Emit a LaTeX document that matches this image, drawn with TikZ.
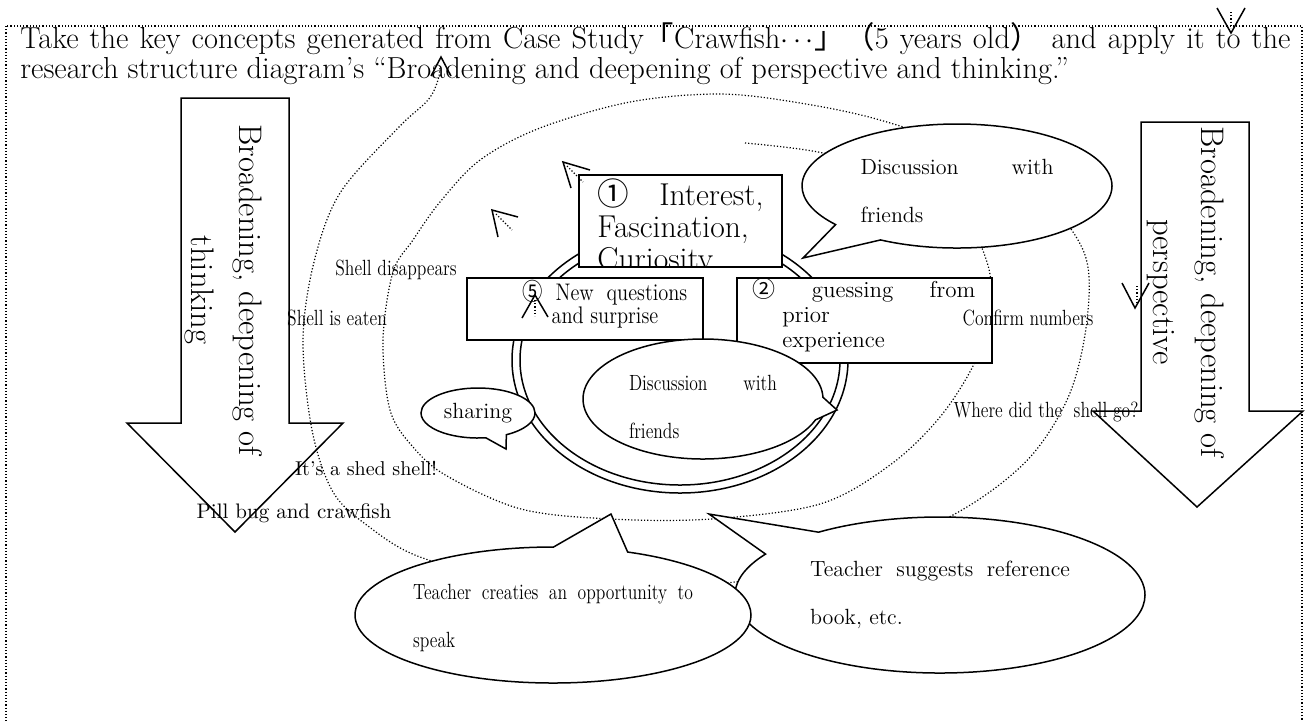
\documentclass[tikz,border=0pt]{standalone}
\usepackage{fontspec}
\usepackage{graphicx}
\newfontfamily\cjk{Noto Sans CJK JP}
\usetikzlibrary{shapes.geometric, shapes.callouts}

\newcommand{\narrow}[2][0.8]{\scalebox{#1}[1]{#2}}

\begin{document}
\begin{tikzpicture}[x=0.5pt, y=-0.5pt,
  pageframe/.style={densely dotted, line width=0.6pt},
  track/.style={densely dotted, line width=0.6pt},
  bigarrow/.style={draw, line width=0.75pt, line join=miter},
  arrowtext/.style={rotate=-90, align=center, inner sep=0pt, font=\fontsize{16.3}{24}\selectfont},
  stage/.style={draw, line width=0.75pt, fill=white, inner sep=0pt},
  ring/.style={draw, ellipse, line width=0.75pt, inner sep=0pt},
  talk/.style={draw, ellipse callout, line width=0.75pt, fill=white, inner sep=0pt,
               callout pointer arc=22, font=\fontsize{11}{24}\selectfont},
  note/.style={inner sep=0pt, font=\fontsize{11}{13}\selectfont},
  vhead/.style={line width=0.75pt, line join=miter},
]

\fill[white] (0,0) rectangle (1310,720);
\useasboundingbox (0,0) rectangle (1310,720);
\clip (0,0) rectangle (1310,720);

% Dotted frame
\draw[pageframe] (6,26) rectangle (1302,760);

% Heading
\node[anchor=base west, inner sep=0pt, font=\fontsize{15.2}{14}\selectfont] (head1) at (20,48)
  {\makebox[635pt][s]{Take the key concepts generated from Case Study{\cjk 「}Crawfish$\cdots${\cjk 」（}5 years old{\cjk ）} and apply it to the}};
\node[anchor=base west, inner sep=0pt, font=\fontsize{15.2}{14}\selectfont] (head2) at (20,78)
  {research structure diagram’s “Broadening and deepening of perspective and thinking.”};

% Spiral track
\draw[track] plot[smooth, tension=0.55] coordinates {
  (745,143) (823,153) (900,178) (960,212) (987,262) (991,310) (975,362) (940,417)
  (890,465) (820,504) (711,519) (611,519) (521,509) (447,476) (413,447) (390,410)
  (383,340) (393,272) (413,240) (440,202) (480,160) (540,128) (630,102) (720,94)
  (800,103) (880,120) (970,152) (1045,200) (1085,255) (1087,320) (1070,393) (1032,455)
  (975,502) (900,540) (800,572) (735,582) (640,588) (520,582) (420,557) (368,526)
  (333,492) (312,430) (303,340) (314,262) (340,193) (398,128) (428,100) (438,80) (440,66)};

% Block arrows
\draw[bigarrow] (181,98) -- (289,98) -- (289,423) -- (343,423) -- (235,532) -- (127,423) -- (181,423) -- cycle;
\node[arrowtext] (thinking) at (224,290) {Broadening, deepening of\\thinking};
\draw[bigarrow] (1141,122) -- (1249,122) -- (1249,411) -- (1303,411) -- (1197,507) -- (1093,411) -- (1141,411) -- cycle;
\node[arrowtext] (perspective) at (1186,292) {Broadening, deepening of\\perspective};

% Double ring
\node[ring, minimum width=168pt, minimum height=133pt] (ringout) at (680,360) {};
\node[ring, minimum width=160pt, minimum height=125pt] (ringin) at (680,360) {};

% Stage boxes
\node[stage, minimum width=101.5pt, minimum height=46pt] (interest) at (680.5,221) {};
\begin{scope}
  \clip (interest.south west) rectangle (interest.north east);
  \node[anchor=base west, inner sep=0pt, font=\fontsize{15.8}{16}\selectfont] (interesttext) at (597,205)
    {\parbox[t]{83pt}{\makebox[83pt]{{\cjk ①}\hfill Interest,}\\Fascination,\\Curiosity}};
\end{scope}

\node[stage, minimum width=118pt, minimum height=31pt] (newq) at (585,309) {};
\node[anchor=base west, inner sep=0pt, font=\fontsize{12}{11.5}\selectfont] (newqtext) at (522,300)
  {\parbox[t]{82.5pt}{\centering\narrow[0.85]{\makebox[97pt][s]{{\cjk ⑤} New questions}}\\\narrow[0.85]{and surprise}}};

\node[stage, minimum width=127.5pt, minimum height=42.5pt] (guess) at (864.5,320.5) {};
\node[anchor=base west, inner sep=0pt, font=\fontsize{11.5}{12.5}\selectfont] (guesstext) at (752,297)
  {\parbox[t]{111.5pt}{\makebox[111.5pt]{{\cjk ②}\hfill guessing\hfill from}\\\hspace*{15pt}prior\\\hspace*{15pt}experience}};

% Speech bubbles
\coordinate (ptrTR) at (803,258);
\coordinate (ptrIn) at (837,410);
\coordinate (ptrShare) at (506,449);
\coordinate (ptrB1) at (611,514);
\coordinate (ptrB2) at (709,514);

\node[talk, minimum width=155pt, minimum height=62pt, text height=15pt, text depth=27pt,
      callout absolute pointer=(ptrTR)] (talkTR) at (957,186)
  {\parbox[t]{96.5pt}{\makebox[96.5pt]{Discussion\hfill with}\\friends}};
\node[talk, minimum width=120pt, minimum height=60pt, text height=16pt, text depth=25pt,
      callout absolute pointer=(ptrIn)] (talkIn) at (703,399)
  {\parbox[t]{74pt}{\narrow{\makebox[92.5pt][s]{Discussion with}}\\\narrow{friends}}};
\node[talk, minimum width=57pt, minimum height=25pt, callout absolute pointer=(ptrShare)] (talkShare) at (478,413) {sharing};
\node[talk, minimum width=205pt, minimum height=78pt, callout absolute pointer=(ptrB2)] (talkB2) at (940,595)
  {\parbox[t]{130pt}{\makebox[130pt]{Teacher\hfill suggests\hfill reference}\\book, etc.}};
\node[talk, minimum width=198pt, minimum height=68pt, text height=11pt, text depth=27pt,
      callout absolute pointer=(ptrB1)] (talkB1) at (553,615)
  {\parbox[t]{140pt}{\narrow{\makebox[175pt][s]{Teacher creaties an opportunity to}}\\\narrow{speak}}};

% Loose labels
\node[note] (gone) at (396,270) {\narrow{Shell disappears}};
\node[note] (eaten) at (337,318) {\narrow{Shell is eaten}};
\node[note, font=\fontsize{10}{12}\selectfont] (shed) at (366,468) {It’s a shed shell!};
\node[note, font=\fontsize{10.5}{12}\selectfont] (pillbug) at (294,513) {Pill bug and crawfish};
\node[note] (count) at (1028,318) {\narrow{Confirm numbers}};
\node[note] (where) at (1046,412) {\narrow{Where did the\ \ shell go?}};

% Open arrow heads with dotted stems
\draw[vhead] (431,76) -- (441,57) -- (451,76);
\foreach \ax/\ay/\tx/\ty/\bx/\by/\sx/\sy/\ex/\ey in {
    1217/8/1231/33/1245/8/1231/12/1231/28,
    1122/283/1135/308/1149/283/1137/286/1137/303,
    590/170/563/162/571/188/567/166/583/182,
    518/217/492/210/498/237/496/214/512/230,
    522/318/535/295/548/317/535/300/535/316}{
  \draw[vhead] (\ax,\ay) -- (\tx,\ty) -- (\bx,\by);
  \draw[track] (\sx,\sy) -- (\ex,\ey);
}

\end{tikzpicture}
\end{document}
